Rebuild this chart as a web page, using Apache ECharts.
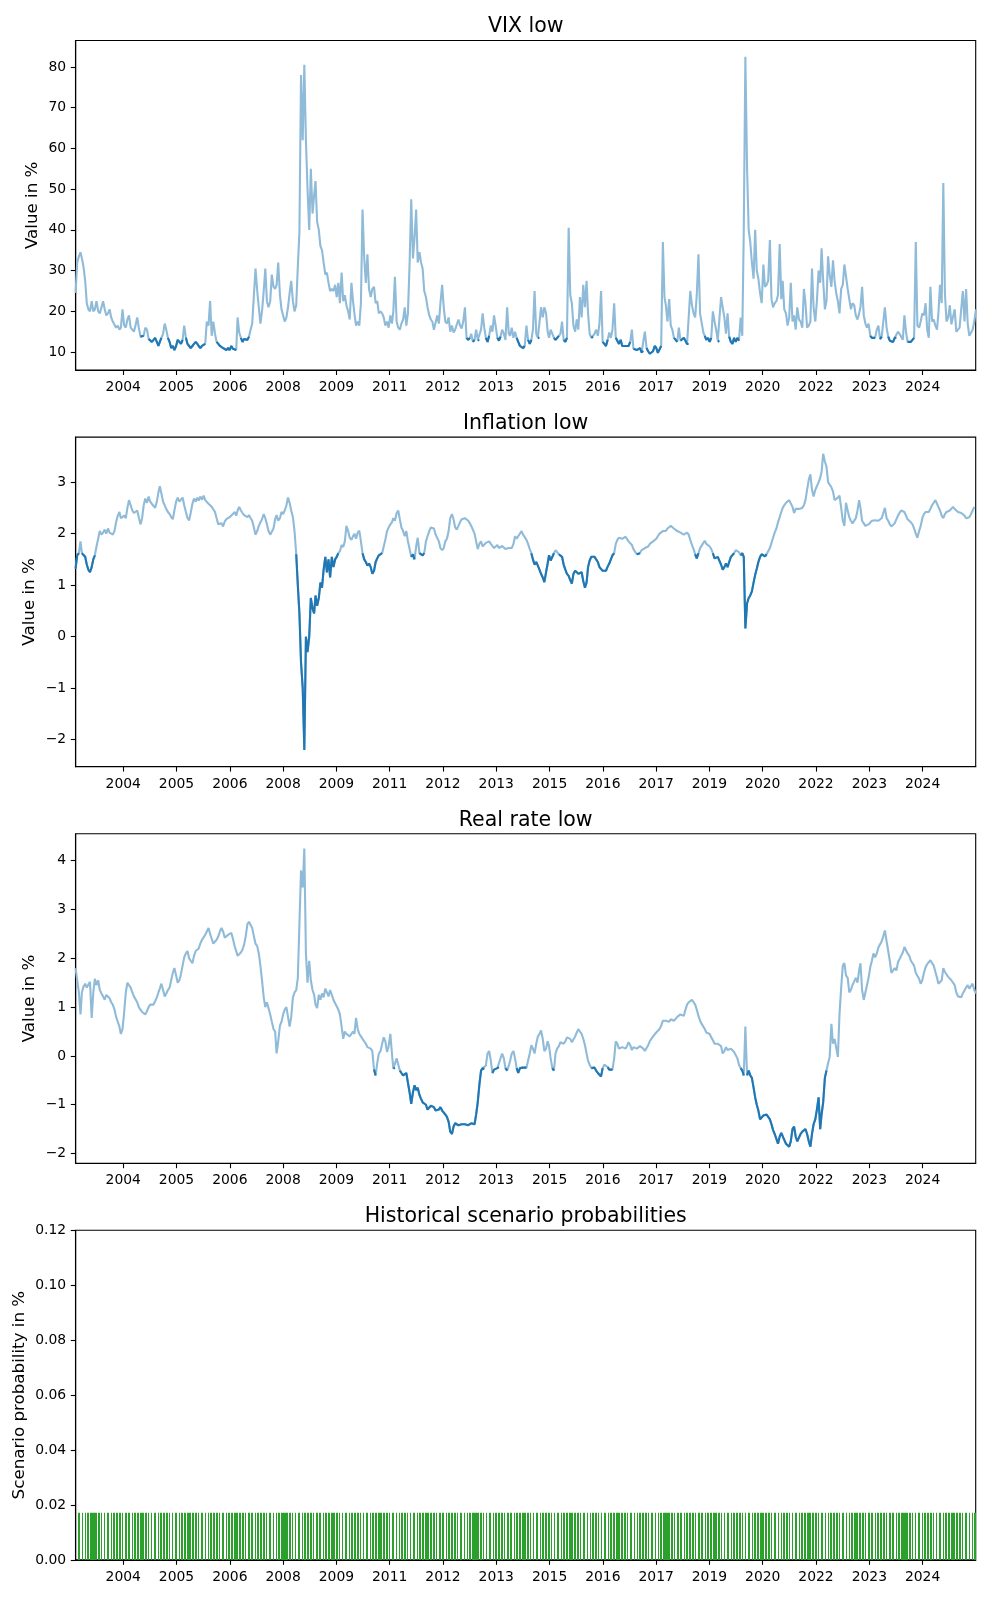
<!DOCTYPE html>
<html><head><meta charset="utf-8">
<script src="https://cdn.jsdelivr.net/npm/echarts@6/dist/echarts.min.js"></script>
<style>html,body{margin:0;padding:0;background:#fff}#chart{width:1000px;height:1600px}</style>
</head><body><div id="chart"></div>
<script>
// Semi-monthly readings (1st and 16th of each month), Jan 2003 .. Feb 2026
const vixValues = [
24.5,32.0,33.5,34.5,33.0,31.0,27.5,22.0,20.5,20.0,22.5,20.0,20.5,22.5,20.0,19.5,19.5,22.5,20.5,19.0,19.5,20.5,18.5,17.5,
17.5,16.0,16.5,15.5,16.0,20.5,16.5,16.0,18.0,19.0,16.0,15.5,15.0,16.5,18.5,16.0,13.8,13.5,14.0,16.0,15.5,13.2,13.0,12.5,
13.0,13.5,12.5,11.5,12.5,13.5,14.5,17.0,15.5,13.5,12.5,11.0,11.5,10.5,11.5,13.0,12.5,12.0,13.0,16.5,13.5,12.0,11.5,11.0,
11.5,12.0,12.5,12.0,11.5,11.0,11.5,11.5,12.0,17.5,16.5,22.5,14.0,17.5,14.5,12.5,12.0,11.5,11.5,11.0,10.8,10.5,11.0,10.5,
11.5,10.8,11.0,10.5,18.5,14.8,13.5,12.5,13.2,13.0,13.0,13.8,15.5,17.0,24.0,30.5,25.0,21.0,17.0,20.0,25.0,30.5,22.5,21.0,
22.5,29.0,26.0,25.5,26.5,32.0,24.0,20.5,19.0,17.5,18.5,21.0,24.5,27.5,22.5,20.0,21.5,31.0,39.5,78.0,62.0,80.5,62.0,50.0,
40.0,55.0,44.0,48.5,52.0,42.0,40.0,36.0,35.0,32.0,29.0,29.5,27.0,25.0,25.5,25.0,26.5,23.5,27.0,22.0,29.5,22.5,24.0,21.5,
20.0,18.0,27.0,22.5,19.5,16.5,17.5,16.5,22.0,45.0,33.0,27.0,34.0,25.5,23.5,25.5,26.0,22.0,22.5,19.5,20.0,19.5,18.5,16.5,
17.5,16.0,19.0,17.0,20.0,28.5,17.5,16.0,15.5,17.0,18.0,21.0,16.5,19.5,32.0,47.5,33.0,38.0,45.0,32.0,34.5,32.0,30.5,25.0,
23.5,21.0,19.0,18.0,17.5,15.5,15.5,19.0,17.0,22.0,26.5,21.0,17.5,17.0,18.5,15.0,16.5,14.8,15.5,15.5,18.0,16.5,15.8,17.5,
21.0,13.5,13.0,13.5,14.5,12.5,13.0,15.5,13.0,12.8,15.5,19.5,16.0,13.5,12.5,14.0,16.5,15.0,19.0,16.5,13.5,12.8,13.8,15.5,
14.5,13.0,21.0,14.5,14.0,16.0,13.5,15.0,13.5,12.5,11.5,11.5,11.0,11.5,16.5,13.0,12.0,13.0,15.5,25.0,14.5,13.5,13.5,21.0,
18.5,21.0,19.5,15.0,13.5,15.5,14.5,13.5,13.0,13.0,14.0,14.5,17.5,13.0,12.5,13.5,40.5,24.0,22.0,16.5,15.0,18.0,15.5,23.5,
18.5,26.5,21.0,27.5,19.5,14.5,13.5,13.8,14.5,15.5,14.0,17.0,25.0,12.5,12.0,11.5,13.0,14.8,13.5,15.5,22.0,13.5,13.5,12.0,
13.0,11.5,11.5,11.5,11.5,11.5,12.5,15.5,10.8,10.5,10.5,10.5,11.0,9.9,10.3,15.0,11.0,10.2,9.6,10.0,10.2,11.5,11.0,9.8,
10.0,11.5,37.0,23.5,21.5,17.5,23.0,16.5,15.5,13.5,13.0,12.5,16.0,12.8,12.5,13.5,12.8,12.0,12.0,25.0,21.5,19.5,18.5,24.0,
34.0,19.5,17.0,14.8,14.0,13.0,13.5,12.5,13.5,20.0,17.5,15.5,12.8,12.5,23.5,21.0,18.5,14.5,19.5,13.8,12.5,12.0,13.5,12.5,
13.5,12.8,18.5,14.0,40.0,82.5,55.0,40.0,37.0,32.0,28.0,40.0,30.0,28.0,24.5,22.0,31.5,26.0,26.5,27.5,37.5,23.0,21.0,22.0,
22.5,24.0,36.5,23.0,27.5,20.5,19.5,16.5,18.5,27.0,17.5,19.0,15.5,21.0,18.0,17.5,16.0,25.5,22.0,16.0,16.5,17.5,30.5,21.0,
17.5,22.5,30.0,27.0,35.5,27.5,20.5,22.5,33.5,29.0,26.0,32.5,27.5,24.5,22.5,19.5,25.5,26.5,31.5,31.5,25.5,23.0,20.5,22.0,
21.5,19.0,18.0,19.5,21.0,26.0,19.0,17.0,16.0,17.0,14.0,13.5,13.8,13.5,15.5,16.5,13.2,13.8,17.5,21.0,16.0,13.8,12.8,12.5,
12.5,13.5,13.5,15.0,14.5,14.5,13.0,19.0,15.0,12.5,12.5,12.5,12.3,13.5,37.0,16.5,16.0,17.5,19.5,19.0,22.0,15.5,13.5,26.0,
17.5,18.0,16.5,15.5,19.5,26.5,22.0,51.5,24.5,17.5,18.5,21.5,16.8,17.0,20.5,15.0,15.5,16.0,16.3,25.0,17.5,25.5,17.0,14.0,
13.8,15.5,17.5,20.5
];
const inflationValues = [
1.32,1.58,1.62,1.85,1.62,1.60,1.55,1.40,1.30,1.25,1.35,1.50,1.58,1.75,1.90,2.05,1.98,2.02,2.08,2.00,2.10,2.02,2.05,1.98,
2.05,2.22,2.35,2.42,2.30,2.28,2.35,2.30,2.50,2.65,2.55,2.45,2.40,2.38,2.45,2.32,2.18,2.30,2.55,2.68,2.60,2.72,2.62,2.58,
2.55,2.50,2.62,2.80,2.92,2.78,2.62,2.55,2.48,2.42,2.38,2.32,2.28,2.45,2.62,2.70,2.62,2.66,2.70,2.55,2.42,2.30,2.26,2.40,
2.58,2.68,2.62,2.70,2.64,2.72,2.66,2.74,2.65,2.62,2.58,2.55,2.52,2.55,2.42,2.30,2.18,2.15,2.20,2.14,2.24,2.28,2.26,2.32,
2.30,2.38,2.42,2.35,2.45,2.52,2.45,2.40,2.36,2.38,2.32,2.36,2.30,2.25,2.12,1.98,2.05,2.15,2.22,2.28,2.38,2.30,2.18,2.05,
1.98,1.95,2.10,2.28,2.36,2.25,2.30,2.42,2.38,2.45,2.55,2.70,2.60,2.45,2.32,2.05,1.60,1.00,0.45,-0.50,-1.00,-2.20,0.00,-0.30,
0.00,0.75,0.55,0.45,0.80,0.60,0.75,1.05,0.95,1.30,1.55,1.25,1.50,1.15,1.55,1.35,1.50,1.55,1.62,1.66,1.78,1.74,1.85,2.15,
2.05,1.92,1.88,1.95,2.00,1.90,2.02,2.06,1.85,1.62,1.50,1.45,1.38,1.42,1.35,1.22,1.28,1.45,1.52,1.58,1.55,1.62,1.75,1.88,
2.05,2.12,2.18,2.22,2.30,2.25,2.40,2.45,2.28,2.12,2.05,1.95,2.05,1.85,1.70,1.55,1.60,1.50,1.75,1.92,1.62,1.60,1.58,1.62,
1.85,1.95,2.05,2.12,2.15,2.10,1.98,1.95,1.85,1.72,1.68,1.72,1.85,1.90,2.05,2.30,2.38,2.28,2.12,2.08,2.15,2.22,2.28,2.25,
2.30,2.32,2.25,2.20,2.15,2.12,2.00,1.85,1.70,1.80,1.85,1.75,1.78,1.82,1.80,1.85,1.80,1.78,1.72,1.75,1.78,1.72,1.70,1.76,
1.75,1.70,1.68,1.72,1.74,1.72,1.80,1.95,1.90,1.95,2.00,2.05,1.98,1.95,1.88,1.80,1.70,1.62,1.50,1.40,1.45,1.38,1.30,1.22,
1.15,1.06,1.25,1.42,1.58,1.48,1.55,1.62,1.68,1.64,1.60,1.62,1.55,1.40,1.30,1.22,1.18,1.10,1.03,1.22,1.28,1.25,1.22,1.20,
1.25,1.08,0.95,1.05,1.35,1.48,1.55,1.58,1.55,1.50,1.45,1.35,1.38,1.28,1.30,1.28,1.36,1.42,1.50,1.58,1.62,1.80,1.88,1.92,
1.95,1.90,1.92,1.94,1.90,1.85,1.82,1.78,1.70,1.65,1.60,1.58,1.62,1.68,1.70,1.72,1.70,1.75,1.80,1.82,1.85,1.88,1.90,1.95,
2.00,2.02,2.05,2.08,2.05,2.10,2.12,2.15,2.12,2.10,2.08,2.05,2.05,2.02,2.00,1.98,2.00,2.02,1.98,1.88,1.78,1.70,1.60,1.52,
1.62,1.72,1.75,1.82,1.86,1.80,1.78,1.75,1.70,1.62,1.52,1.50,1.55,1.52,1.40,1.30,1.35,1.42,1.35,1.45,1.55,1.58,1.62,1.68,
1.68,1.64,1.58,1.62,1.55,0.16,0.65,0.75,0.80,0.88,1.05,1.20,1.32,1.45,1.55,1.60,1.58,1.56,1.60,1.66,1.72,1.82,1.92,2.02,
2.10,2.22,2.32,2.42,2.50,2.55,2.60,2.62,2.65,2.68,2.52,2.40,2.48,2.45,2.48,2.45,2.50,2.55,2.65,2.85,3.05,3.15,2.85,2.72,
2.85,2.92,3.00,3.08,3.20,3.55,3.40,3.30,3.00,2.95,2.90,2.82,2.65,2.62,2.70,2.74,2.50,2.25,2.15,2.60,2.45,2.32,2.25,2.20,
2.18,2.30,2.45,2.65,2.50,2.25,2.20,2.15,2.12,2.18,2.20,2.25,2.22,2.26,2.28,2.25,2.28,2.30,2.40,2.50,2.30,2.25,2.18,2.14,
2.15,2.20,2.28,2.35,2.40,2.45,2.48,2.42,2.35,2.28,2.25,2.22,2.18,2.10,2.00,1.92,2.05,2.15,2.30,2.38,2.42,2.45,2.42,2.48,
2.55,2.60,2.65,2.58,2.52,2.45,2.35,2.30,2.38,2.42,2.40,2.45,2.48,2.52,2.48,2.45,2.42,2.45,2.40,2.38,2.35,2.30,2.28,2.32,
2.38,2.45,2.52,2.55
];
const realRateValues = [
1.80,1.55,1.30,0.85,1.30,1.42,1.48,1.40,1.40,1.52,0.78,1.30,1.58,1.45,1.55,1.35,1.28,1.22,1.15,1.25,1.22,1.18,1.10,1.05,
0.95,0.80,0.70,0.60,0.45,0.55,0.90,1.30,1.50,1.45,1.40,1.30,1.22,1.18,1.10,1.00,0.95,0.90,0.88,0.85,0.92,1.00,1.05,1.02,
1.05,1.12,1.20,1.30,1.38,1.48,1.35,1.22,1.28,1.35,1.40,1.55,1.70,1.80,1.65,1.50,1.55,1.68,1.85,2.02,2.10,2.15,2.00,1.95,
1.90,2.05,2.15,2.12,2.20,2.30,2.38,2.42,2.48,2.55,2.62,2.50,2.40,2.30,2.32,2.38,2.45,2.55,2.62,2.55,2.42,2.40,2.48,2.52,
2.52,2.40,2.25,2.15,2.05,2.02,2.12,2.18,2.28,2.45,2.70,2.75,2.68,2.62,2.45,2.30,2.25,2.10,1.85,1.55,1.20,1.00,1.10,1.12,
0.85,0.70,0.55,0.50,0.05,0.30,0.62,0.70,0.85,0.95,1.00,0.80,0.60,0.80,1.20,1.30,1.35,1.60,2.70,3.80,3.45,4.25,2.10,1.50,
1.95,1.55,1.35,1.25,1.05,0.98,1.25,1.15,1.28,1.20,1.38,1.30,1.22,1.35,1.25,1.15,1.08,1.05,0.95,0.85,0.60,0.35,0.50,0.45,
0.45,0.40,0.42,0.50,0.45,0.78,0.55,0.45,0.40,0.35,0.30,0.25,0.18,0.20,0.15,0.10,-0.28,-0.40,-0.15,0.05,0.10,0.25,0.38,0.30,
0.08,0.20,0.45,0.05,-0.26,-0.24,-0.05,-0.02,-0.30,-0.35,-0.40,-0.42,-0.35,-0.55,-0.75,-0.98,-0.75,-0.60,-0.70,-0.65,-0.80,-0.88,-0.95,-0.92,
-1.00,-1.10,-1.08,-1.02,-0.98,-1.05,-1.12,-1.15,-1.10,-1.05,-1.12,-1.15,-1.20,-1.25,-1.35,-1.55,-1.60,-1.45,-1.38,-1.40,-1.42,-1.38,-1.40,-1.42,
-1.40,-1.38,-1.42,-1.45,-1.38,-1.42,-1.40,-1.20,-0.95,-0.60,-0.30,-0.25,-0.28,-0.20,0.05,0.10,-0.10,-0.35,-0.28,-0.30,-0.25,-0.23,-0.05,0.05,
-0.05,-0.25,-0.30,-0.20,-0.10,0.05,0.10,-0.05,-0.25,-0.35,-0.25,-0.28,-0.24,-0.28,-0.24,-0.10,0.05,0.22,0.15,0.05,0.25,0.40,0.45,0.52,
0.35,0.10,0.15,0.30,0.20,-0.05,-0.25,-0.30,0.05,0.15,0.20,0.28,0.32,0.25,0.30,0.38,0.42,0.35,0.28,0.32,0.40,0.48,0.55,0.50,
0.45,0.35,0.22,0.05,-0.10,-0.18,-0.25,-0.28,-0.24,-0.30,-0.35,-0.32,-0.42,-0.25,-0.18,-0.20,-0.23,-0.28,-0.25,-0.28,-0.05,0.30,0.25,0.15,
0.12,0.18,0.22,0.15,0.20,0.28,0.22,0.12,0.18,0.22,0.15,0.12,0.20,0.18,0.15,0.10,0.12,0.22,0.30,0.35,0.40,0.42,0.48,0.52,
0.55,0.62,0.72,0.70,0.72,0.68,0.70,0.75,0.78,0.72,0.75,0.80,0.78,0.85,0.88,0.82,0.95,1.05,1.10,1.08,1.15,1.12,1.05,0.95,
0.82,0.72,0.65,0.60,0.55,0.48,0.50,0.45,0.38,0.32,0.25,0.22,0.25,0.28,0.20,0.05,0.10,0.18,0.12,0.10,0.15,0.12,0.08,0.02,
-0.05,-0.18,-0.25,-0.30,-0.40,0.60,-0.40,-0.30,-0.40,-0.45,-0.65,-0.85,-1.00,-1.12,-1.30,-1.32,-1.22,-1.18,-1.20,-1.25,-1.30,-1.40,-1.52,-1.60,
-1.70,-1.80,-1.65,-1.58,-1.62,-1.72,-1.80,-1.78,-1.86,-1.75,-1.50,-1.45,-1.65,-1.75,-1.72,-1.60,-1.55,-1.52,-1.50,-1.60,-1.75,-1.86,-1.60,-1.40,
-1.30,-1.10,-0.85,-1.50,-1.20,-0.95,-0.45,-0.30,-0.15,-0.02,0.66,0.25,0.35,0.39,-0.02,0.85,1.40,1.85,1.90,1.65,1.60,1.30,1.35,1.45,
1.45,1.60,1.50,1.75,1.90,1.35,1.15,1.30,1.45,1.60,1.82,1.95,2.10,2.02,2.10,2.22,2.25,2.35,2.45,2.57,2.35,2.15,1.95,1.70,
1.68,1.80,1.75,1.92,1.98,2.05,2.12,2.23,2.20,2.10,2.05,1.95,1.98,1.85,1.70,1.68,1.58,1.48,1.55,1.70,1.82,1.88,1.85,1.96,
1.90,1.85,1.72,1.60,1.48,1.45,1.55,1.80,1.72,1.68,1.62,1.60,1.55,1.50,1.45,1.30,1.22,1.25,1.20,1.28,1.32,1.40,1.45,1.38,
1.42,1.48,1.35,1.28
];
const vixLowThreshold = 14.2;
const inflationLowThreshold = 1.63;
const realRateLowThreshold = -0.22;
// scenario probability (uniform over all trading days), in %
const probValue = 0.0172;

const titles = ['VIX low', 'Inflation low', 'Real rate low', 'Historical scenario probabilities'];
const yNames = ['Value in %', 'Value in %', 'Value in %', 'Scenario probability in %'];
const tickLabels = ['2004','2005','2006','2008','2009','2011','2012','2013','2015','2016','2017','2019','2020','2022','2023','2024'];
const tickDays = [12500,13000,13500,14000,14500,15000,15500,16000,16500,17000,17500,18000,18500,19000,19500,20000];
const vixTicks = [10,20,30,40,50,60,70,80];
const inflationTicks = [-2,-1,0,1,2,3];
const realRateTicks = [-2,-1,0,1,2,3,4];
const probTicks = [0,0.02,0.04,0.06,0.08,0.10,0.12];
const yRanges = [[5.58,86.48],[-2.524,3.874],[-2.2,4.553],[0,0.12]];
const xMinDay = 12054; // 2003-01-02
const xMaxDay = 20498; // 2026-02-14

// dates (days since 1970-01-01) for the semi-monthly readings
function semiMonthlyDays(n){
  const out=[];
  for(let i=0;i<n;i++){
    const y=2003+Math.floor(i/24), m=Math.floor((i%24)/2), d=(i%2)?16:1;
    out.push(Date.UTC(y,m,d)/86400000);
  }
  return out;
}
// trading days (weekdays) for the scenario probabilities
function tradingDays(a,b){
  const out=[];
  for(let d=a; d<=b; d++){ const w=new Date(d*86400000).getUTCDay(); if(w!==0&&w!==6) out.push(d); }
  return out;
}

const FONT='DejaVu Sans';
const LEFT=75.7, WIDTH=900, HEIGHT=329.6;
const tops=[40.5,437.1,833.7,1230.3];
const nameGaps=[35,37.5,37.5,48];
const minus = v => (v<0 ? '\u2212'+(-v) : String(v));
const yTickSets=[vixTicks,inflationTicks,realRateTicks,probTicks];
const yFormatters=[minus,minus,minus,v=>v.toFixed(2)];

const grids=[], xAxes=[], yAxes=[], series=[], graphics=[];
for(let i=0;i<4;i++){
  grids.push({left:LEFT, top:tops[i], width:WIDTH, height:HEIGHT, show:true, borderColor:'#000', borderWidth:1.1, backgroundColor:'#fff', containLabel:false, outerBoundsMode:'none'});
  xAxes.push({type:'value', gridIndex:i, min:xMinDay, max:xMaxDay,
    axisLine:{show:true,onZero:false,lineStyle:{color:'#000',width:1.1}},
    axisTick:{show:true,inside:false,length:4.9,customValues:tickDays,lineStyle:{color:'#000',width:1.1}},
    axisLabel:{show:true,customValues:tickDays,margin:10.5,color:'#000',fontSize:13.9,fontFamily:FONT,
      formatter:v=>{const k=tickDays.indexOf(Math.round(v)); return k>=0?tickLabels[k]:'';}},
    splitLine:{show:false}});
  yAxes.push({type:'value', gridIndex:i, min:yRanges[i][0], max:yRanges[i][1],
    name:yNames[i], nameLocation:'middle', nameRotate:90, nameGap:nameGaps[i], nameMoveOverlap:false,
    nameTextStyle:{color:'#000',fontSize:16.7,fontFamily:FONT},
    axisLine:{show:true,onZero:false,lineStyle:{color:'#000',width:1.1}},
    axisTick:{show:true,inside:false,length:4.9,customValues:yTickSets[i],lineStyle:{color:'#000',width:1.1}},
    axisLabel:{show:true,customValues:yTickSets[i],margin:9.5,color:'#000',fontSize:13.9,fontFamily:FONT,formatter:yFormatters[i]},
    splitLine:{show:false}});
  graphics.push({type:'text', x:LEFT+WIDTH/2, y:tops[i]-13.5, silent:true,
    style:{text:titles[i], fill:'#000', font:'20.5px "DejaVu Sans"', textAlign:'center', textVerticalAlign:'middle', align:'center', verticalAlign:'middle'}});
}

const seriesData=[[vixValues,vixLowThreshold],[inflationValues,inflationLowThreshold],[realRateValues,realRateLowThreshold]];
seriesData.forEach(([vals,thr],i)=>{
  const days=semiMonthlyDays(vals.length);
  series.push({type:'line', xAxisIndex:i, yAxisIndex:i, data:days.map((d,k)=>[d,vals[k]]),
    showSymbol:false, symbol:'none', clip:true, z:2, lineStyle:{color:'#8fbbd9',width:2.1}, itemStyle:{color:'#8fbbd9'}});
  series.push({type:'line', xAxisIndex:i, yAxisIndex:i, data:days.map((d,k)=>[d, vals[k]<thr?vals[k]:'-']),
    showSymbol:false, symbol:'none', connectNulls:false, clip:true, z:3, lineStyle:{color:'#1f77b4',width:2.1}, itemStyle:{color:'#1f77b4'}});
});

const scenarioDays=tradingDays(xMinDay,xMaxDay);
series.push({type:'custom', xAxisIndex:3, yAxisIndex:3, clip:true, silent:true, z:2,
  encode:{x:0,y:1},
  data:scenarioDays.map(d=>[d,probValue]),
  renderItem:function(params,api){
    const x=api.value(0), y=api.value(1);
    const a=api.coord([x-0.4,y]), b=api.coord([x+0.4,0]);
    const x1=Math.floor(a[0]+0.5), x2=Math.floor(b[0]+0.5);
    if(x2<=x1) return null;
    return {type:'rect', shape:{x:x1,y:a[1],width:x2-x1,height:b[1]-a[1]}, style:{fill:'#2ca02c'}};
  }});

const chart=echarts.init(document.getElementById('chart'),null,{renderer:'canvas'});
chart.setOption({animation:false, backgroundColor:'#fff', textStyle:{fontFamily:FONT},
  grid:grids, xAxis:xAxes, yAxis:yAxes, series:series, graphic:graphics});
</script></body></html>
